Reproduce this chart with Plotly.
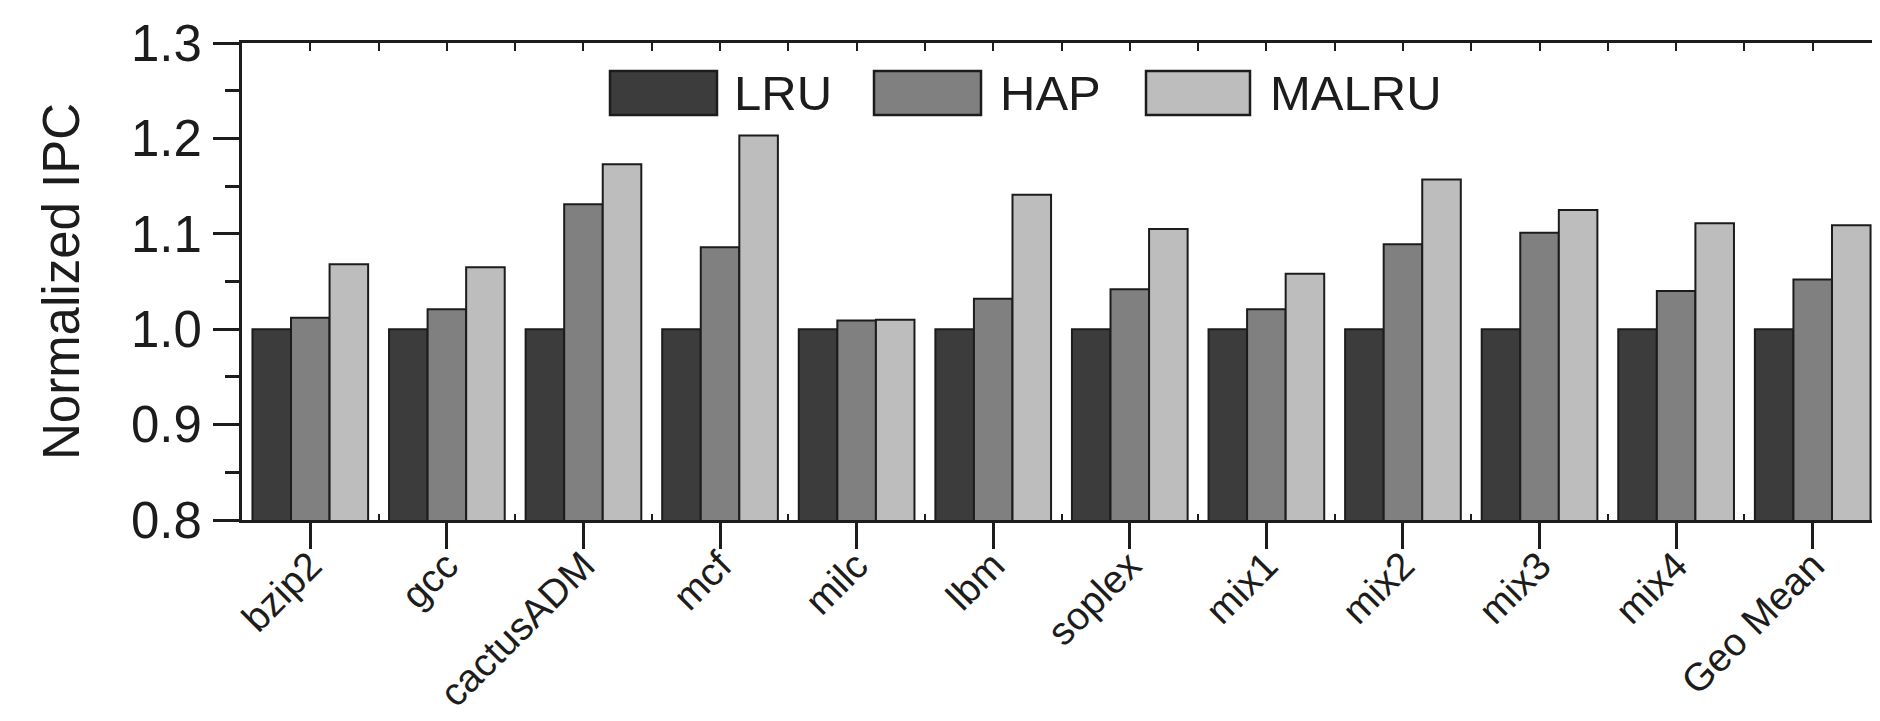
import plotly.graph_objects as go

categories = ["bzip2", "gcc", "cactusADM", "mcf", "milc", "lbm", "soplex",
              "mix1", "mix2", "mix3", "mix4", "Geo Mean"]
series_names = ["LRU", "HAP", "MALRU"]
lru = [1.0, 1.0, 1.0, 1.0, 1.0, 1.0, 1.0, 1.0, 1.0, 1.0, 1.0, 1.0]
hap = [1.012, 1.021, 1.131, 1.086, 1.009, 1.032, 1.042, 1.021, 1.089, 1.101, 1.040, 1.052]
malru = [1.068, 1.065, 1.173, 1.203, 1.010, 1.141, 1.105, 1.058, 1.157, 1.125, 1.111, 1.109]
colors = ["#3c3c3c", "#808080", "#bdbdbd"]
y_ticks = [0.8, 0.9, 1.0, 1.1, 1.2, 1.3]

INK = "#1c1c1c"
FONT = "Liberation Sans, Arial, sans-serif"

W, H = 1880, 721
L, R, T, B = 234, 7, 35, 209
PW, PH = W - L - R, H - T - B

def px(x):
    return (x - L) / PW

def py(y):
    return (H - B - y) / PH

fig = go.Figure()
for name, vals, col in zip(series_names, [lru, hap, malru], colors):
    fig.add_bar(x=categories, y=vals, name=name,
                marker=dict(color=col, line=dict(color=INK, width=2)),
                showlegend=False)

# helper traces so the mirror axes are drawn
fig.add_scatter(x=[], y=[], xaxis="x2", yaxis="y2", showlegend=False, hoverinfo="skip")
fig.add_scatter(x=[], y=[], xaxis="x3", yaxis="y2", showlegend=False, hoverinfo="skip")

n = len(categories)
fig.update_layout(
    width=W, height=H,
    margin=dict(l=L, r=R, t=T, b=B, autoexpand=False),
    paper_bgcolor="white", plot_bgcolor="white",
    font=dict(family=FONT, color=INK),
    barmode="group", bargap=0.153, bargroupgap=0,
    xaxis=dict(type="category", range=[-0.5, n - 0.5],
               showline=True, linewidth=3, linecolor=INK,
               ticks="outside", ticklen=26, tickwidth=3, tickcolor=INK,
               tickangle=-45, tickfont=dict(size=39, color=INK),
               ticklabelstandoff=-22,
               showgrid=False, zeroline=False),
    yaxis=dict(range=[0.8, 1.3], tickvals=y_ticks, tickformat=".1f",
               showline=True, linewidth=3, linecolor=INK,
               ticks="outside", ticklen=26, tickwidth=3, tickcolor=INK,
               minor=dict(dtick=0.05, tick0=0.8, ticks="outside", ticklen=14,
                          tickwidth=3, tickcolor=INK, showgrid=False),
               tickfont=dict(size=51, color=INK), ticklabelstandoff=1,
               title=dict(text="Normalized IPC", font=dict(size=51, color=INK), standoff=36),
               showgrid=False, zeroline=False),
    yaxis2=dict(overlaying="y", side="right", anchor="x", range=[0.8, 1.3],
                tick0=0.8, dtick=0.05, ticks="inside", ticklen=9, tickwidth=2,
                tickcolor=INK, showticklabels=False, showline=True, linewidth=3,
                linecolor=INK, showgrid=False, zeroline=False),
    xaxis2=dict(overlaying="x", side="top", anchor="y2", range=[-0.5, n - 0.5],
                tick0=-0.5, dtick=0.5, ticks="inside", ticklen=8, tickwidth=2,
                tickcolor=INK, showticklabels=False, showline=True, linewidth=3,
                linecolor=INK, showgrid=False, zeroline=False),
    xaxis3=dict(overlaying="x", side="bottom", anchor="y2", range=[-0.5, n - 0.5],
                tick0=-0.5, dtick=1, ticks="inside", ticklen=6, tickwidth=2,
                tickcolor=INK, showticklabels=False, showline=False,
                showgrid=False, zeroline=False),
)

# custom legend (large swatches like the reference)
box_x = [(602, 709), (866, 973), (1138, 1242)]
text_x = [724, 990, 1260]
box_top, box_bot = 63, 107
for (x0, x1), tx, name, col in zip(box_x, text_x, series_names, colors):
    fig.add_shape(type="rect", xref="paper", yref="paper",
                  x0=px(x0), x1=px(x1), y0=py(box_bot), y1=py(box_top),
                  fillcolor=col, line=dict(color=INK, width=2.5))
    fig.add_annotation(xref="paper", yref="paper", x=px(tx), y=py((box_top + box_bot) / 2),
                       text=name, showarrow=False, xanchor="left", yanchor="middle",
                       font=dict(size=49, color=INK, family=FONT))

fig.write_html("out.html")
